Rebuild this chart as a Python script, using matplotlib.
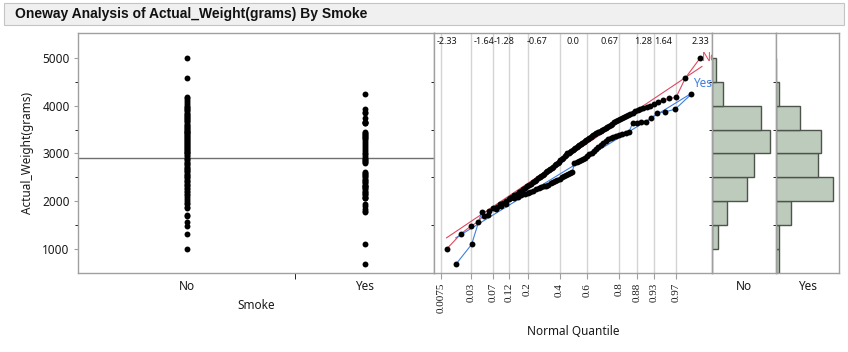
import matplotlib
matplotlib.use("Agg")
import matplotlib.pyplot as plt
import matplotlib.transforms as mtrans
from matplotlib.patches import Rectangle
from statistics import NormalDist
import numpy as np

plt.rcParams['font.family'] = ['Noto Sans', 'DejaVu Sans']

# data (birth weights, grams)
groups = ["No", "Yes"]
weights_no = [1000, 1326, 1479,
              1569, 1701, 1715, 1862, 1890, 1935, 1970,
              2015, 2050, 2090, 2125, 2155, 2190, 2220, 2250, 2280, 2310,
              2340, 2365, 2395, 2420, 2450, 2485,
              2510, 2530, 2555, 2580, 2605, 2630, 2655, 2680, 2700, 2725,
              2750, 2775, 2800, 2830, 2855, 2880, 2910, 2940, 2975,
              3000, 3020, 3040, 3060, 3080, 3100, 3120, 3140, 3160, 3180,
              3200, 3220, 3240, 3260, 3280, 3300, 3320, 3340, 3360, 3380,
              3400, 3420, 3440, 3455, 3470, 3490,
              3515, 3540, 3560, 3580, 3600, 3625, 3650, 3670, 3690, 3715,
              3740, 3760, 3785, 3810, 3830, 3855, 3880, 3900, 3925, 3950,
              3970, 3990,
              4030, 4080, 4120, 4150, 4172,
              4582, 5000]
weights_yes = [680, 1097,
               1778, 1790, 1840, 1900, 1935,
               2060, 2075, 2100, 2130, 2150, 2175, 2200, 2220, 2250, 2270,
               2290, 2310, 2330, 2350, 2380, 2400, 2420, 2450, 2470,
               2500, 2520, 2540, 2570, 2590, 2615,
               2805, 2820, 2850, 2870, 2890, 2910, 2940, 2980,
               3020, 3060, 3100, 3140, 3180, 3220, 3260, 3300, 3320, 3340,
               3360, 3380, 3400, 3430, 3452,
               3630, 3640, 3650, 3660, 3732, 3850, 3870, 3927,
               4234]
group_colors = ["#e0485e", "#3f7fe0"]

quantile_labels = ["-2.33", "-1.64", "-1.28", "-0.67", "0.0", "0.67", "1.28", "1.64", "2.33"]
prob_ticks = [0.0075, 0.03, 0.07, 0.12, 0.2, 0.4, 0.6, 0.8, 0.88, 0.93, 0.97]
prob_labels = ["0.0075", "0.03", "0.07", "0.12", "0.2", "0.4", "0.6", "0.8", "0.88", "0.93", "0.97"]
hist_edges = [500, 1000, 1500, 2000, 2500, 3000, 3500, 4000, 4500, 5000]

W, H = 848, 352
spine_col = "#a0a0a0"
txt_col = "#1a1a1a"


def box(l, t, r, b):
    return [l / W, 1 - b / H, (r - l) / W, (b - t) / H]


fig = plt.figure(figsize=(W / 100, H / 100), dpi=100)

# title bar
fig.patches.append(Rectangle((4 / W, 1 - 25 / H), 840 / W, 22 / H, transform=fig.transFigure,
                             facecolor="#f0f0f0", edgecolor="#c4c4c4", lw=0.8))
fig.text(15 / W, 1 - 14 / H, "Oneway Analysis of Actual_Weight(grams) By Smoke",
         fontsize=10, fontweight="bold", family=["Liberation Sans", "DejaVu Sans"],
         va="center", ha="left", color="#111111")

ax = fig.add_axes(box(78, 33, 434, 273))
axq = fig.add_axes(box(434, 33, 711.7, 273), sharey=ax)
axh = [fig.add_axes(box(711.7, 33, 775.7, 273), sharey=ax),
       fig.add_axes(box(775.7, 33, 839.3, 273), sharey=ax)]

for a in [ax, axq] + axh:
    for s in a.spines.values():
        s.set_color(spine_col)
        s.set_linewidth(1)
    a.tick_params(colors=spine_col, labelcolor=txt_col)

data = [weights_no, weights_yes]
n_no, n_yes = len(weights_no), len(weights_yes)
centers = [n_no / 2, n_no + n_yes / 2]
grand_mean = np.mean(weights_no + weights_yes)

# --- oneway dot plot
for c, vals in zip(centers, data):
    ax.scatter([c] * len(vals), vals, s=18, color="black", zorder=3, linewidths=0)
ax.axhline(grand_mean, color="#707070", lw=1, zorder=2)
ax.set_xlim(0, n_no + n_yes)
ax.set_ylim(500, 5520)
ax.set_yticks([1000, 2000, 3000, 4000, 5000])
ax.set_yticks(np.arange(1500, 5001, 1000), minor=True)
ax.tick_params(axis="y", which="major", length=3, pad=3, labelsize=8.5)
ax.tick_params(axis="y", which="minor", length=2)
ax.set_xticks(centers)
ax.set_xticklabels(groups)
ax.tick_params(axis="x", which="major", length=0, pad=5, labelsize=8.5)
ax.set_xticks([n_no], minor=True)
ax.tick_params(axis="x", which="minor", length=4)
ax.set_xlabel("Smoke", fontsize=8.5, color=txt_col)
ax.xaxis.set_label_coords(0.5, -(299 - 273) / 240)
ax.set_ylabel("Actual_Weight(grams)", fontsize=8.5, color=txt_col)
ax.yaxis.set_label_coords(-(78 - 34) / 356, 0.5)

# --- normal quantile plot
nd = NormalDist()
grid_z = [nd.inv_cdf(p) for p in prob_ticks]
axq.set_xlim(-2.56, 2.54)
axq.set_xticks(grid_z)
axq.set_xticklabels(prob_labels, rotation=90, fontsize=8, family="Liberation Serif")
axq.tick_params(axis="x", length=4, pad=3)
axq.grid(axis="x", color="#d4d4d4", lw=1)
axq.set_axisbelow(True)
axq.tick_params(axis="y", left=False, labelleft=False)
trans = mtrans.blended_transform_factory(axq.transData, axq.transAxes)
for lab in quantile_labels:
    axq.text(float(lab), 0.985, lab, transform=trans, ha="center", va="top",
             fontsize=6.5, color=txt_col)

for name, vals, col in zip(groups, data, group_colors):
    v = np.sort(vals)
    n = len(v)
    z = np.array([nd.inv_cdf(i / (n + 1)) for i in range(1, n + 1)])
    m, sd = np.mean(v), np.std(v, ddof=1)
    zz = np.array([z[0], z[-1] + 0.03])
    axq.plot(zz, m + sd * zz, color=col, lw=0.8, zorder=2)
    axq.plot(z, v, color=col, lw=0.8, zorder=2)
    axq.scatter(z, v, s=18, color="black", zorder=3, linewidths=0)
    axq.text(zz[-1], m + sd * zz[-1] + 60, name, color=col, fontsize=8.5,
             ha="left", va="bottom", clip_on=True)

axq.set_xlabel("Normal Quantile", fontsize=8.5, color=txt_col)
axq.xaxis.set_label_coords(0.5, -(325 - 273) / 240)

# --- histograms
for a, name, vals in zip(axh, groups, data):
    counts, edges = np.histogram(vals, bins=hist_edges)
    a.barh(edges[:-1], counts, height=np.diff(edges), align="edge",
           color="#bccbbb", edgecolor="#4c544c", lw=1)
    xmax = counts.max() * 64 / 58
    a.set_xlim(0, xmax)
    a.set_xticks([xmax / 2])
    a.set_xticklabels([name])
    a.tick_params(axis="x", length=0, pad=5, labelsize=8.5)
    a.tick_params(axis="y", left=False, labelleft=False)

fig.savefig("out.png", dpi=100)
